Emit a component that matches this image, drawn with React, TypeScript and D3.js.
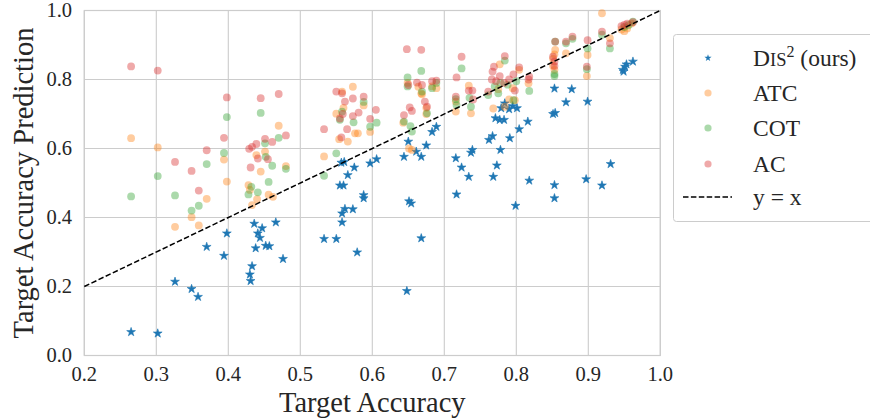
import React from 'react';
import * as d3 from 'd3';

// [target accuracy, predicted accuracy] pairs
const dis2Points: [number, number][] = [
  [0.265, 0.068], [0.302, 0.064], [0.326, 0.214], [0.349, 0.193], [0.358, 0.170], [0.370, 0.315], [0.394, 0.289], [0.398, 0.354],
  [0.430, 0.235], [0.431, 0.216], [0.433, 0.259], [0.436, 0.382], [0.438, 0.311], [0.441, 0.354], [0.444, 0.341], [0.447, 0.369],
  [0.452, 0.318], [0.457, 0.317], [0.466, 0.386], [0.476, 0.280],
  [0.533, 0.338], [0.550, 0.338], [0.555, 0.493], [0.560, 0.493], [0.557, 0.559], [0.561, 0.561], [0.558, 0.386], [0.558, 0.412],
  [0.562, 0.425], [0.566, 0.523], [0.573, 0.424], [0.575, 0.545], [0.579, 0.299], [0.588, 0.456], [0.588, 0.465], [0.597, 0.557], [0.606, 0.569],
  [0.644, 0.576], [0.648, 0.187], [0.650, 0.620], [0.651, 0.447], [0.654, 0.441], [0.661, 0.591], [0.668, 0.576], [0.668, 0.340],
  [0.675, 0.609], [0.683, 0.648], [0.689, 0.663],
  [0.716, 0.572], [0.717, 0.467], [0.724, 0.545], [0.734, 0.518], [0.737, 0.588], [0.739, 0.596], [0.762, 0.625], [0.767, 0.636],
  [0.768, 0.518], [0.773, 0.551], [0.778, 0.596], [0.771, 0.688], [0.777, 0.683], [0.783, 0.683], [0.779, 0.717], [0.784, 0.731],
  [0.790, 0.714], [0.795, 0.723], [0.801, 0.717], [0.791, 0.630], [0.799, 0.434], [0.804, 0.656], [0.816, 0.678], [0.818, 0.507],
  [0.851, 0.700], [0.854, 0.703], [0.853, 0.774], [0.853, 0.494], [0.853, 0.456], [0.869, 0.734], [0.877, 0.772], [0.897, 0.511],
  [0.899, 0.736], [0.919, 0.493], [0.931, 0.555], [0.948, 0.828], [0.949, 0.823], [0.951, 0.837], [0.953, 0.844], [0.962, 0.852],
];

const atcPoints: [number, number][] = [
  [0.265, 0.630], [0.302, 0.603], [0.326, 0.373], [0.349, 0.401], [0.359, 0.377], [0.370, 0.454], [0.394, 0.568], [0.398, 0.504],
  [0.428, 0.494], [0.430, 0.480], [0.433, 0.436], [0.439, 0.581], [0.440, 0.453], [0.445, 0.533], [0.451, 0.591], [0.456, 0.466],
  [0.462, 0.460], [0.470, 0.666], [0.480, 0.549],
  [0.533, 0.577], [0.550, 0.701], [0.554, 0.627], [0.558, 0.765], [0.560, 0.718], [0.566, 0.620], [0.573, 0.779], [0.576, 0.644],
  [0.580, 0.644], [0.588, 0.725], [0.597, 0.648],
  [0.643, 0.675], [0.651, 0.600], [0.655, 0.596], [0.649, 0.790], [0.664, 0.779], [0.668, 0.760], [0.669, 0.757], [0.675, 0.718],
  [0.675, 0.700], [0.683, 0.780], [0.689, 0.775],
  [0.716, 0.707], [0.716, 0.736], [0.734, 0.782], [0.737, 0.702], [0.768, 0.716], [0.775, 0.772], [0.777, 0.844], [0.784, 0.721],
  [0.790, 0.742], [0.798, 0.740], [0.804, 0.828], [0.817, 0.789], [0.795, 0.775],
  [0.851, 0.860], [0.851, 0.840], [0.853, 0.873], [0.853, 0.828], [0.854, 0.886], [0.869, 0.876], [0.898, 0.810], [0.899, 0.871],
  [0.919, 0.992], [0.930, 0.920], [0.946, 0.945], [0.950, 0.940], [0.954, 0.948], [0.960, 0.962],
];

const cotPoints: [number, number][] = [
  [0.265, 0.461], [0.302, 0.520], [0.326, 0.464], [0.349, 0.420], [0.359, 0.434], [0.370, 0.555], [0.394, 0.587], [0.398, 0.691],
  [0.428, 0.467], [0.432, 0.489], [0.441, 0.473], [0.445, 0.703], [0.451, 0.615], [0.452, 0.576], [0.456, 0.503], [0.461, 0.550],
  [0.470, 0.631], [0.480, 0.541],
  [0.533, 0.521], [0.550, 0.586], [0.555, 0.683], [0.558, 0.707], [0.574, 0.676], [0.588, 0.735], [0.597, 0.663], [0.606, 0.675],
  [0.644, 0.678], [0.649, 0.806], [0.649, 0.780], [0.653, 0.665], [0.655, 0.649], [0.668, 0.825], [0.669, 0.765], [0.676, 0.702],
  [0.689, 0.790], [0.683, 0.775],
  [0.716, 0.743], [0.717, 0.726], [0.724, 0.832], [0.735, 0.747], [0.737, 0.721], [0.761, 0.755], [0.770, 0.780], [0.778, 0.790],
  [0.784, 0.855], [0.788, 0.785], [0.796, 0.740], [0.800, 0.795], [0.818, 0.767], [0.775, 0.760],
  [0.853, 0.816], [0.853, 0.810], [0.854, 0.910], [0.869, 0.905], [0.878, 0.918], [0.898, 0.830], [0.899, 0.890], [0.919, 0.930],
  [0.930, 0.890], [0.950, 0.952], [0.956, 0.958], [0.962, 0.968],
];

const acPoints: [number, number][] = [
  [0.265, 0.838], [0.302, 0.826], [0.326, 0.561], [0.349, 0.535], [0.359, 0.478], [0.370, 0.595], [0.394, 0.631], [0.398, 0.748],
  [0.429, 0.599], [0.431, 0.545], [0.433, 0.605], [0.439, 0.613], [0.441, 0.571], [0.445, 0.746], [0.451, 0.628], [0.455, 0.569],
  [0.461, 0.619], [0.470, 0.758], [0.480, 0.638],
  [0.533, 0.656], [0.550, 0.765], [0.555, 0.687], [0.557, 0.632], [0.558, 0.760], [0.559, 0.700], [0.562, 0.736], [0.565, 0.656],
  [0.573, 0.745], [0.573, 0.694], [0.581, 0.704], [0.588, 0.750], [0.597, 0.686], [0.605, 0.712],
  [0.644, 0.697], [0.648, 0.888], [0.650, 0.784], [0.652, 0.719], [0.655, 0.709], [0.662, 0.791], [0.668, 0.886], [0.669, 0.784],
  [0.673, 0.736], [0.676, 0.721], [0.683, 0.795], [0.689, 0.797],
  [0.716, 0.750], [0.717, 0.806], [0.724, 0.866], [0.734, 0.768], [0.739, 0.768], [0.740, 0.742], [0.761, 0.765], [0.767, 0.823],
  [0.769, 0.837], [0.784, 0.868], [0.766, 0.800], [0.772, 0.795], [0.777, 0.810], [0.783, 0.790], [0.790, 0.800], [0.796, 0.815],
  [0.798, 0.768], [0.804, 0.835], [0.817, 0.800], [0.818, 0.808],
  [0.851, 0.866], [0.853, 0.852], [0.853, 0.839], [0.854, 0.910], [0.869, 0.910], [0.878, 0.924], [0.898, 0.837], [0.899, 0.914],
  [0.919, 0.939], [0.930, 0.905], [0.946, 0.955], [0.950, 0.958], [0.954, 0.962], [0.962, 0.966],
];

const xTicks = [0.2, 0.3, 0.4, 0.5, 0.6, 0.7, 0.8, 0.9, 1.0];
const yTicks = [0.0, 0.2, 0.4, 0.6, 0.8, 1.0];

const circleSeries = [
  { label: 'ATC', color: '#ff7f0e', points: atcPoints },
  { label: 'COT', color: '#2ca02c', points: cotPoints },
  { label: 'AC', color: '#d62728', points: acPoints },
];

const FONT = '"Liberation Serif", "DejaVu Serif", serif';

const App: React.FC = () => {
  const width = 870;
  const height = 419;
  const x = d3.scaleLinear().domain([0.2, 1]).range([84.3, 660.3]);
  const y = d3.scaleLinear().domain([0, 1]).range([355.5, 10.5]);
  const [x0, x1] = x.range();
  const [y0, y1] = y.range();

  const star = d3.symbol(d3.symbolStar, 24)()!;
  const legendStar = d3.symbol(d3.symbolStar, 16)()!;

  const legendX = 673.5;
  const legendY = 34.5;
  const rows = [58, 93, 128, 164, 197];

  return (
    <svg width={width} height={height} style={{ position: 'absolute', left: 0, top: 0, background: '#fff' }} fontFamily={FONT}>
      {/* grid */}
      {xTicks.map(t => (
        <line key={'gx' + t} x1={x(t)} x2={x(t)} y1={y0} y2={y1} stroke="#cccccc" strokeWidth={1.1} />
      ))}
      {yTicks.map(t => (
        <line key={'gy' + t} x1={x0} x2={x1} y1={y(t)} y2={y(t)} stroke="#cccccc" strokeWidth={1.1} />
      ))}
      <rect x={x0} y={y1} width={x1 - x0} height={y0 - y1} fill="none" stroke="#cccccc" strokeWidth={1.2} />

      {/* stars */}
      {dis2Points.map(([a, b], i) => (
        <path key={'s' + i} d={star} transform={`translate(${x(a)},${y(b)})`} fill="#1f77b4" stroke="#1f77b4" strokeWidth={0.6} />
      ))}

      {circleSeries.map(s =>
        s.points.map(([a, b], i) => (
          <circle key={s.label + i} cx={x(a)} cy={y(b)} r={3.9} fill={s.color} fillOpacity={0.4} />
        ))
      )}

      <line x1={x(0.2)} y1={y(0.2)} x2={x(1)} y2={y(1)} stroke="#000" strokeWidth={1.5} strokeDasharray="5.5 2.4" />

      {/* tick labels */}
      {xTicks.map(t => (
        <text key={'tx' + t} x={x(t)} y={381} textAnchor="middle" fontSize={20.5} fill="#262626">{t.toFixed(1)}</text>
      ))}
      {yTicks.map(t => (
        <text key={'ty' + t} x={72} y={y(t)} dy="0.34em" textAnchor="end" fontSize={20.5} fill="#262626">{t.toFixed(1)}</text>
      ))}

      <text x={(x0 + x1) / 2} y={411.5} textAnchor="middle" fontSize={28.5} fill="#262626">Target Accuracy</text>
      <text transform={`translate(33,${(y0 + y1) / 2}) rotate(-90)`} textAnchor="middle" fontSize={28.5} fill="#262626">
        Target Accuracy Prediction
      </text>

      {/* legend */}
      <rect x={legendX} y={legendY} width={204} height={187} rx={3} fill="#fff" fillOpacity={0.8} stroke="#cccccc" strokeWidth={1} />
      <path d={legendStar} transform={`translate(708,${rows[0]})`} fill="#1f77b4" />
      {circleSeries.map((s, i) => (
        <circle key={'lg' + s.label} cx={708} cy={rows[i + 1]} r={3.6} fill={s.color} fillOpacity={0.4} />
      ))}
      <line x1={683} x2={732} y1={rows[4]} y2={rows[4]} stroke="#000" strokeWidth={1.5} strokeDasharray="5.5 2.4" />

      <text x={753} y={rows[0]} dy="0.34em" fontSize={23.5} fill="#262626">
        D<tspan fontSize={18.5}>IS</tspan>
        <tspan fontSize={16} dy={-9}>2</tspan>
        <tspan dy={9}>{' (ours)'}</tspan>
      </text>
      {circleSeries.map((s, i) => (
        <text key={'lt' + s.label} x={753} y={rows[i + 1]} dy="0.34em" fontSize={23.5} fill="#262626">{s.label}</text>
      ))}
      <text x={753} y={rows[4]} dy="0.34em" fontSize={23.5} fill="#262626">y = x</text>
    </svg>
  );
};

export default App;
